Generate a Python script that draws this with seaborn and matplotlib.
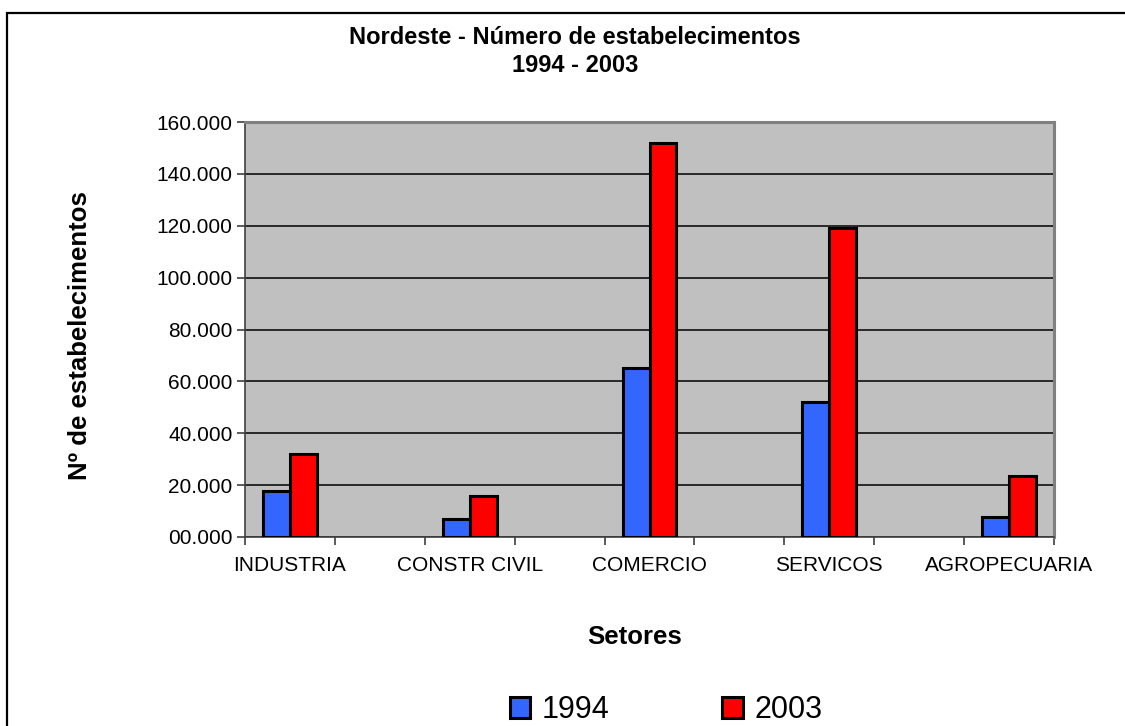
import pandas as pd
import matplotlib.pyplot as plt
import seaborn as sns
from matplotlib.patches import Rectangle, Patch

# data
setores = ["INDUSTRIA", "CONSTR CIVIL", "COMERCIO", "SERVICOS", "AGROPECUARIA"]
anos = ["1994", "2003"]
valores_1994 = [17700, 6900, 65000, 52000, 7600]
valores_2003 = [31900, 15700, 152000, 119000, 23400]

# Excel chart has an empty slot between each sector
slots = []
for i, s in enumerate(setores):
    slots.append(s)
    if i < len(setores) - 1:
        slots.append("vazio%d" % i)

df = pd.DataFrame({
    "setor": setores * 2,
    "ano": [anos[0]] * len(setores) + [anos[1]] * len(setores),
    "valor": valores_1994 + valores_2003,
})

sns.set_style("white")
plt.rcParams["font.family"] = ["Liberation Sans", "DejaVu Sans"]
plt.rcParams["text.color"] = "black"
plt.rcParams["xtick.color"] = "black"
plt.rcParams["ytick.color"] = "black"

fig = plt.figure(figsize=(11.25, 7.26), dpi=100)
ax = fig.add_axes([245 / 1125, 1 - 537 / 726, (1054 - 245) / 1125, (537 - 122) / 726])
ax.set_facecolor("#C0C0C0")

cores = {"1994": "#3366FF", "2003": "#FF0000"}
sns.barplot(data=df, x="setor", y="valor", hue="ano", order=slots, hue_order=anos,
            palette=cores, saturation=1, width=0.6, edgecolor="black", linewidth=2.2,
            legend=False, ax=ax, zorder=3)

ax.set_ylim(0, 160000)
ax.set_xlim(-0.5, len(slots) - 0.5)
yt = list(range(0, 160001, 20000))
ax.set_yticks(yt)
ax.set_yticklabels(["%02d.000" % (v // 1000) for v in yt], fontsize=15)
ax.yaxis.grid(True, color="black", linewidth=1.1, zorder=0)
ax.set_axisbelow(True)

# tick marks on the slot boundaries, labels in the middle of the sectors
ax.set_xticks([i - 0.5 for i in range(len(slots) + 1)])
ax.set_xticklabels([])
ax.set_xticks([slots.index(s) for s in setores], minor=True)
ax.set_xticklabels(setores, minor=True, fontsize=15)
ax.tick_params(axis="x", which="minor", length=0, pad=14)
ax.tick_params(axis="x", which="major", length=6, width=1.2, color="#404040", direction="out", bottom=True)
ax.tick_params(axis="y", length=6, width=1.2, color="#404040", direction="out", left=True, pad=3)

ax.set_xlabel("")
ax.set_ylabel("")
for side in ["top", "right"]:
    ax.spines[side].set_color("#808080")
    ax.spines[side].set_linewidth(2.2)
for side in ["left", "bottom"]:
    ax.spines[side].set_color("#404040")
    ax.spines[side].set_linewidth(1.2)

# chart area border
fig.patches.append(Rectangle((7 / 1125, -0.1), 1.2, 1 - 13 / 726 + 0.1, transform=fig.transFigure,
                             fill=False, edgecolor="black", linewidth=1.6, clip_on=False))

fig.text(575 / 1125, 1 - 37 / 726, "Nordeste - Número de estabelecimentos", ha="center", va="center",
         fontsize=17, fontweight="bold")
fig.text(575 / 1125, 1 - 66 / 726, "1994 - 2003", ha="center", va="center", fontsize=17, fontweight="bold")
fig.text(80 / 1125, 1 - 336 / 726, "Nº de estabelecimentos", rotation=90, ha="center", va="center",
         fontsize=18.5, fontweight="bold")
fig.text(635 / 1125, 1 - 637 / 726, "Setores", ha="center", va="center", fontsize=18.5, fontweight="bold")

handles = [Patch(facecolor=cores[a], edgecolor="black", linewidth=2.2, label=a) for a in anos]
fig.legend(handles=handles, loc="center", bbox_to_anchor=(666 / 1125, 1 - 710 / 726), ncol=2,
           frameon=False, fontsize=22, handlelength=0.67, handleheight=0.67, handletextpad=0.37,
           columnspacing=3.7, borderpad=0, borderaxespad=0)

fig.savefig("out.png", dpi=100)
